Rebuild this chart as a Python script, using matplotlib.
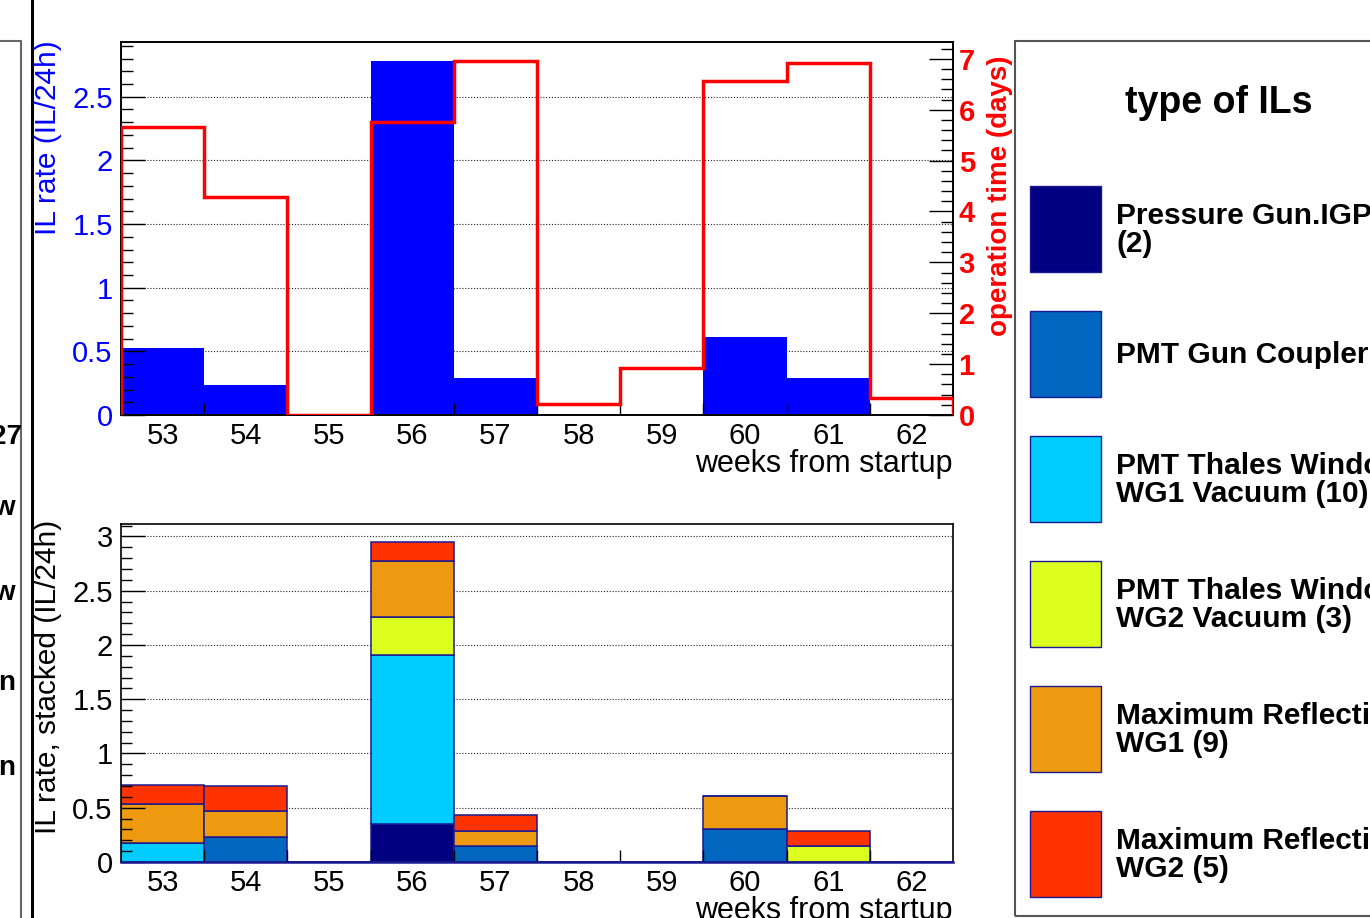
"""IL rate per week vs operation time, plus stacked IL types (ROOT-style canvas crop)."""
import numpy as np
import matplotlib
matplotlib.use("Agg")
import matplotlib.pyplot as plt
from matplotlib.patches import Rectangle
from matplotlib.lines import Line2D
from matplotlib.ticker import MultipleLocator

plt.rcParams["font.family"] = ["Liberation Sans", "DejaVu Sans"]

W, H = 1370, 918

weeks = [53, 54, 55, 56, 57, 58, 59, 60, 61, 62]
op_days = [5.66, 4.28, 0.0, 5.76, 6.96, 0.22, 0.93, 6.57, 6.92, 0.34]
il_counts = [3, 1, 0, 16, 2, 0, 0, 4, 2, 0]

type_labels = ["Pressure Gun.IGP\n(2)", "PMT Gun Coupler (4)",
               "PMT Thales Window\nWG1 Vacuum (10)",
               "PMT Thales Window\nWG2 Vacuum (3)",
               "Maximum Reflection\nWG1 (9)", "Maximum Reflection\nWG2 (5)"]
type_colors = ["#000080", "#0066c0", "#00ccff", "#ddff1f", "#ee9a10", "#ff3300"]
counts_igp = [0, 0, 0, 2, 0, 0, 0, 0, 0, 0]
counts_coupler = [0, 1, 0, 0, 1, 0, 0, 2, 0, 0]
counts_wg1_vac = [1, 0, 0, 9, 0, 0, 0, 0, 0, 0]
counts_wg2_vac = [0, 0, 0, 2, 0, 0, 0, 0, 1, 0]
counts_refl_wg1 = [2, 1, 0, 3, 1, 0, 0, 2, 0, 0]
counts_refl_wg2 = [1, 1, 0, 1, 1, 0, 0, 0, 1, 0]
type_counts = [counts_igp, counts_coupler, counts_wg1_vac, counts_wg2_vac,
               counts_refl_wg1, counts_refl_wg2]

left_panel_texts = ["27", "w", "w", "n", "n"]


def fx(px):
    return px / W


def fy(py):
    return 1 - py / H


def rate(counts):
    c = np.asarray(counts, float)
    d = np.asarray(op_days, float)
    return np.divide(c, d, out=np.zeros_like(c), where=d > 0)


def style_x(ax):
    edges = np.arange(weeks[0] - 0.5, weeks[-1] + 1.0)
    ax.set_xlim(edges[0], edges[-1])
    ax.set_xticks(weeks)
    ax.set_xticks(edges[1:-1], minor=True)
    ax.tick_params(axis="x", which="major", length=0, pad=5, labelsize=21)
    ax.tick_params(axis="x", which="minor", direction="in", length=9, width=1)
    return edges


def grid(ax):
    for v in ax.get_yticks():
        if 0 < v < ax.get_ylim()[1]:
            ax.axhline(v, color="#222222", lw=0.8, ls=(0, (1, 1.6)), zorder=0.5)


fig = plt.figure(figsize=(W / 100, H / 100), dpi=100)

# ---- top: IL rate + operation time
ax = fig.add_axes([fx(121), fy(415), fx(953) - fx(121), (415 - 42) / H])
edges = style_x(ax)
ax.bar(weeks, rate(il_counts), width=1.0, color="#0000ff", lw=0, zorder=1)
ax.set_ylim(0, 2.93)
ax.yaxis.set_major_locator(MultipleLocator(0.5))
ax.yaxis.set_minor_locator(MultipleLocator(0.1))
ax.tick_params(axis="y", which="major", direction="in", length=17, width=1,
               labelsize=21, labelcolor="#0000ff", pad=6)
ax.tick_params(axis="y", which="minor", direction="in", length=8.5, width=1)
ax.set_yticks([0, 0.5, 1, 1.5, 2, 2.5], ["0", "0.5", "1", "1.5", "2", "2.5"])
grid(ax)

ax2 = ax.twinx()
ax2.stairs(op_days, edges, color="#ff0000", lw=2.5, zorder=3)
ax2.set_ylim(0, 7.33)
ax2.yaxis.set_major_locator(MultipleLocator(1))
ax2.yaxis.set_minor_locator(MultipleLocator(0.2))
ax2.tick_params(axis="y", which="major", direction="in", length=17, width=1,
                labelsize=21, labelcolor="#ff0000", pad=4)
ax2.tick_params(axis="y", which="minor", direction="in", length=9, width=1)
for t in ax2.get_yticklabels():
    t.set_fontweight("bold")
for a in (ax, ax2):
    for s in a.spines.values():
        s.set_linewidth(1.2)

# ---- bottom: stacked IL types
bx = fig.add_axes([fx(121), fy(862), fx(953) - fx(121), (862 - 524) / H])
style_x(bx)
base = np.zeros(len(weeks))
for counts, col in zip(type_counts, type_colors):
    r = rate(counts)
    bx.bar(weeks, r, bottom=base, width=1.0, color=col, edgecolor="#1a1a90",
           lw=1.1, zorder=1)
    base += r
bx.set_ylim(0, 3.115)
bx.yaxis.set_major_locator(MultipleLocator(0.5))
bx.yaxis.set_minor_locator(MultipleLocator(0.1))
bx.set_yticks([0, 0.5, 1, 1.5, 2, 2.5, 3], ["0", "0.5", "1", "1.5", "2", "2.5", "3"])
bx.tick_params(axis="y", which="major", direction="in", length=17, width=1,
               labelsize=21, pad=6)
bx.tick_params(axis="y", which="minor", direction="in", length=8, width=1)
for s in bx.spines.values():
    s.set_linewidth(1.2)
bx.spines["bottom"].set_color("#1a1a90")
bx.spines["bottom"].set_linewidth(1.8)
grid(bx)

# axis titles
fig.text(fx(48), fy(40), "IL rate (IL/24h)", rotation=90, ha="center", va="top",
         fontsize=21.5, color="#0000ff")
fig.text(fx(48), fy(520), "IL rate, stacked (IL/24h)", rotation=90, ha="center",
         va="top", fontsize=21.5)
fig.text(fx(1000), fy(56), "operation time (days)", rotation=90, ha="center",
         va="top", fontsize=20, color="#ff0000", fontweight="bold")
fig.text(fx(953), fy(472), "weeks from startup", ha="right", va="baseline", fontsize=22)
fig.text(fx(953), fy(919), "weeks from startup", ha="right", va="baseline", fontsize=22)

# ---- right legend box
fig.patches.append(Rectangle((fx(1015), fy(916)), fx(400), (916 - 41) / H,
                             transform=fig.transFigure, fill=False,
                             edgecolor="#555555", lw=1.5))
fig.text(fx(1219), fy(103), "type of ILs", ha="center", va="center",
         fontsize=27, fontweight="bold")
for i, (lab, col) in enumerate(zip(type_labels, type_colors)):
    top = 186 + 125 * i
    fig.patches.append(Rectangle((fx(1030), fy(top + 86)), fx(71), 86 / H,
                                 transform=fig.transFigure, facecolor=col,
                                 edgecolor="#1a1a90", lw=1))
    fig.text(fx(1116), fy(top + 44), lab, ha="left", va="center", fontsize=21.5,
             fontweight="bold", linespacing=1.02)

# ---- left (cropped) panel
fig.lines.append(Line2D([fx(0), fx(21), fx(21)], [fy(41), fy(41), fy(918)],
                        transform=fig.transFigure, color="#666666", lw=1.5))
fig.lines.append(Line2D([fx(32), fx(32)], [fy(0), fy(918)],
                        transform=fig.transFigure, color="black", lw=2.2))
for txt, ypx in zip(left_panel_texts, [437, 508, 593, 683, 768]):
    xr = 22 if txt == "27" else 15
    fig.text(fx(xr), fy(ypx), txt, ha="right", va="center", fontsize=20,
             fontweight="bold")

fig.savefig("out.png", dpi=100)
